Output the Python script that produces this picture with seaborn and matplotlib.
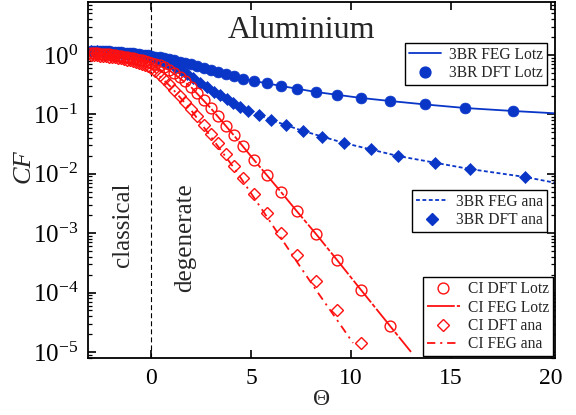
import numpy as np
import pandas as pd
import matplotlib
matplotlib.use("Agg")
import matplotlib.pyplot as plt
from matplotlib.lines import Line2D
from matplotlib.ticker import FixedLocator, LogFormatterMathtext, NullFormatter
import seaborn as sns

# ---------------- data ----------------
# common Theta grid of the DFT Lotz / CI markers
theta_grid = [-3.00, -2.85, -2.70, -2.55, -2.40, -2.25, -2.10, -1.95, -1.80, -1.65,
              -1.50, -1.35, -1.20, -1.05, -0.90, -0.75, -0.60, -0.45, -0.30, -0.15,
              0.00, 0.20, 0.43, 0.65, 0.90, 1.15, 1.43, 1.70, 2.00, 2.30,
              2.65, 3.00, 3.35, 3.75, 4.15, 4.60, 5.15, 5.80, 6.50, 7.30,
              8.25, 9.30, 10.50, 11.95, 13.70, 15.70, 18.10]

br3_dft_lotz = [1.168, 1.168, 1.163, 1.159, 1.154, 1.150, 1.145, 1.137, 1.128, 1.119,
                1.110, 1.098, 1.085, 1.072, 1.060, 1.043, 1.027, 1.012, 0.996, 0.981,
                0.962, 0.940, 0.915, 0.890, 0.840, 0.808, 0.771, 0.733, 0.692, 0.653,
                0.604, 0.559, 0.517, 0.479, 0.435, 0.394, 0.365, 0.331, 0.301, 0.268,
                0.238, 0.212, 0.189, 0.168, 0.147, 0.128, 0.114]

ci_dft_lotz = [1.081, 1.072, 1.064, 1.056, 1.043, 1.032, 1.020, 1.004, 0.988, 0.973,
               0.954, 0.936, 0.918, 0.897, 0.877, 0.856, 0.834, 0.811, 0.789, 0.765,
               0.742, 0.706, 0.666, 0.616, 0.559, 0.498, 0.426, 0.358, 0.289, 0.229,
               0.1714, 0.1257, 0.0922, 0.0638, 0.0441, 0.0288, 0.0171, 0.00936, 0.00494, 0.00232,
               9.69e-4, 3.54e-4, 1.106e-4, 2.74e-5, None, None, None]

ci_dft_ana = [1.000, 0.992, 0.985, 0.973, 0.962, 0.951, 0.936, 0.922, 0.908, 0.890,
              0.873, 0.853, 0.834, 0.811, 0.789, 0.765, 0.739, 0.711, 0.681, 0.643,
              0.604, 0.538, 0.461, 0.387, 0.319, 0.2575, 0.204, 0.1617, 0.1233, 0.0940,
              0.0663, 0.0468, 0.0330, 0.0215, 0.01353, 0.00850, 0.00457, 0.00219, 1.008e-3, 4.30e-4,
              1.568e-4, 5.09e-5, 1.417e-5, None, None, None, None]

# 3BR DFT ana markers (own grid)
theta_ana = [-3.00, -2.70, -2.40, -2.10, -1.80, -1.50, -1.20, -0.90, -0.60, -0.30,
             0.00, 0.30, 0.60, 0.90, 1.20, 1.50, 1.80, 2.10, 2.45, 2.80,
             3.15, 3.45, 3.80, 4.10, 4.45, 4.85, 5.40, 6.00, 6.75, 7.60,
             8.55, 9.65, 11.00, 12.35, 14.20, 15.95, 18.70]
br3_dft_ana = [1.168, 1.154, 1.137, 1.115, 1.089, 1.060, 1.027, 0.996, 0.962, 0.925,
               0.883, 0.830, 0.768, 0.700, 0.628, 0.548, 0.470, 0.402, 0.338, 0.284,
               0.238, 0.208, 0.178, 0.155, 0.133, 0.116, 0.098, 0.0805, 0.0650, 0.0526,
               0.0417, 0.0330, 0.0257, 0.0199, 0.0152, 0.0120, 0.00883]

# FEG model curves
theta_feg_lotz_3br = [-3.0, -1.5, 0.0, 0.9, 2.0, 3.0, 4.15, 5.15, 6.5, 8.25, 10.5, 11.95, 13.7, 15.7, 18.1, 20.25]
br3_feg_lotz = [1.168, 1.110, 0.962, 0.840, 0.692, 0.559, 0.435, 0.365, 0.301, 0.238, 0.189, 0.168, 0.147, 0.128, 0.114, 0.104]

theta_feg_ana_3br = [-3.0, -1.5, 0.0, 0.9, 1.8, 2.8, 3.8, 4.85, 6.0, 7.6, 9.65, 12.35, 15.95, 18.7, 20.25]
br3_feg_ana = [1.168, 1.060, 0.883, 0.700, 0.470, 0.284, 0.178, 0.116, 0.0805, 0.0526, 0.0330, 0.0199, 0.0120, 0.00883, 0.0070]

theta_feg_lotz_ci = [-3.0, -1.5, 0.0, 0.9, 2.0, 3.0, 4.15, 5.15, 6.5, 7.3, 8.25, 9.3, 10.5, 11.95, 13.0]
ci_feg_lotz = [1.081, 0.954, 0.742, 0.559, 0.289, 0.1257, 0.0441, 0.0171, 0.00494, 0.00232, 9.69e-4, 3.54e-4, 1.106e-4, 2.74e-5, 1.0e-5]

theta_feg_ana_ci = [-3.0, -1.5, 0.0, 1.0, 2.0, 4.15, 5.8, 7.3, 8.25, 9.3, 10.1]
ci_feg_ana = [1.000, 0.873, 0.604, 0.289, 0.1186, 0.01252, 1.874e-3, 3.27e-4, 1.106e-4, 3.46e-5, 1.418e-5]

x_ticks = [0, 5, 10, 15, 20]
y_ticks = [1e-5, 1e-4, 1e-3, 1e-2, 1e-1, 1e0]

BLUE = "#0a36c8"
RED = "#ff1010"

# ---------------- style ----------------
sns.set_theme(style="ticks")
plt.rcParams["font.family"] = ["Liberation Serif", "DejaVu Serif"]
plt.rcParams["mathtext.fontset"] = "custom"
plt.rcParams["mathtext.rm"] = "Liberation Serif"
plt.rcParams["mathtext.it"] = "Liberation Serif:italic"
plt.rcParams["mathtext.bf"] = "Liberation Serif:bold"
plt.rcParams["lines.scale_dashes"] = False

fig = plt.figure(figsize=(5.76, 4.15), dpi=100)
ax = fig.add_axes([88 / 576, 1 - 358 / 415, 467 / 576, 356 / 415])

def df(x, y):
    return pd.DataFrame({"x": x, "y": y}).dropna()

# blue series
sns.lineplot(data=df(theta_feg_lotz_3br, br3_feg_lotz), x="x", y="y", ax=ax, color=BLUE,
             lw=1.3, errorbar=None, sort=False)
sns.lineplot(data=df(theta_grid, br3_dft_lotz), x="x", y="y", ax=ax, color=BLUE, errorbar=None,
             linestyle="none", marker="o", markersize=7.8, markeredgecolor=BLUE, markerfacecolor=BLUE,
             markeredgewidth=0.5, sort=False)
sns.lineplot(data=df(theta_feg_ana_3br, br3_feg_ana), x="x", y="y", ax=ax, color=BLUE,
             lw=1.3, errorbar=None, sort=False)
ax.lines[-1].set_dashes((2.8, 1.8))
sns.lineplot(data=df(theta_ana, br3_dft_ana), x="x", y="y", ax=ax, color=BLUE, errorbar=None,
             linestyle="none", marker="D", markersize=6.5, markeredgecolor=BLUE, markerfacecolor=BLUE,
             markeredgewidth=0.5, sort=False)

# red series
sns.lineplot(data=df(theta_feg_lotz_ci, ci_feg_lotz), x="x", y="y", ax=ax, color=RED,
             lw=1.3, errorbar=None, sort=False)
ax.lines[-1].set_dashes((20, 1.5, 3, 1.5))
sns.lineplot(data=df(theta_grid, ci_dft_lotz), x="x", y="y", ax=ax, color=RED, errorbar=None,
             linestyle="none", marker="o", markersize=7.8, markeredgecolor=RED, markerfacecolor="none",
             markeredgewidth=1.0, sort=False)
sns.lineplot(data=df(theta_feg_ana_ci, ci_feg_ana), x="x", y="y", ax=ax, color=RED,
             lw=1.3, errorbar=None, sort=False)
ax.lines[-1].set_dashes((6, 3.5, 1.5, 3.5))
sns.lineplot(data=df(theta_grid, ci_dft_ana), x="x", y="y", ax=ax, color=RED, errorbar=None,
             linestyle="none", marker="D", markersize=6.0, markeredgecolor=RED, markerfacecolor="none",
             markeredgewidth=1.0, sort=False)

ax.axvline(0, color="black", lw=0.8, dashes=(3.6, 2.2), zorder=0)

ax.set_yscale("log")
ax.set_xlim(-3.15, 20.2)
ax.set_ylim(7.9e-6, 7.8)
ax.xaxis.set_major_locator(FixedLocator(x_ticks))
ax.yaxis.set_major_locator(FixedLocator(y_ticks))
ax.yaxis.set_major_formatter(LogFormatterMathtext())
minor = [m * 10.0 ** e for e in range(-6, 1) for m in range(2, 10) if 7.9e-6 < m * 10.0 ** e < 7.8]
ax.yaxis.set_minor_locator(FixedLocator(minor))
ax.yaxis.set_minor_formatter(NullFormatter())

ax.tick_params(which="both", direction="in", top=True, right=True, colors="black")
ax.tick_params(axis="y", labelsize=18)
ax.tick_params(axis="x", labelsize=17)
ax.tick_params(which="major", length=6, width=1.2, pad=7)
ax.tick_params(which="minor", length=3, width=0.9)
for s in ax.spines.values():
    s.set_linewidth(1.3)
    s.set_color("black")

ax.set_xlabel("Θ", fontsize=17, labelpad=0)
ax.set_ylabel("CF", fontsize=19, style="italic")
ax.yaxis.set_label_coords(-0.115, 0.54)

ax.text(0.457, 0.92, "Aluminium", transform=ax.transAxes, ha="center", va="center", fontsize=23)
ax.text(-1.4, 1.4e-3, "classical", rotation=90, ha="center", va="center", fontsize=18)
ax.text(1.7, 8.5e-4, "degenerate", rotation=90, ha="center", va="center", fontsize=18)

# legends
leg_kw = dict(frameon=True, fancybox=False, edgecolor="black", fontsize=11.2, handlelength=2.1,
              borderpad=0.25, labelspacing=0.15, handletextpad=0.5, borderaxespad=0.0,
              framealpha=1)
h1 = [Line2D([], [], color=BLUE, lw=1.3),
      Line2D([], [], color=BLUE, ls="none", marker="o", markersize=7.8)]
lg1 = ax.legend(h1, ["3BR FEG Lotz", "3BR DFT Lotz"], loc="upper right",
                bbox_to_anchor=(0.983, 0.885), **leg_kw)
lg1.get_frame().set_linewidth(1.0)
ax.add_artist(lg1)

h2 = [Line2D([], [], color=BLUE, lw=1.3, dashes=(2.8, 1.8)),
      Line2D([], [], color=BLUE, ls="none", marker="D", markersize=6.5)]
lg2 = ax.legend(h2, ["3BR FEG ana", "3BR DFT ana"], loc="upper right",
                bbox_to_anchor=(0.983, 0.472), **leg_kw)
lg2.get_frame().set_linewidth(1.0)
ax.add_artist(lg2)

h3 = [Line2D([], [], color=RED, ls="none", marker="o", markersize=7.8, markerfacecolor="none"),
      Line2D([], [], color=RED, lw=1.3, dashes=(20, 1.5, 3, 1.5)),
      Line2D([], [], color=RED, ls="none", marker="D", markersize=6.0, markerfacecolor="none"),
      Line2D([], [], color=RED, lw=1.3, dashes=(6, 3.5, 1.5, 3.5))]
lg3 = ax.legend(h3, ["CI DFT Lotz", "CI FEG Lotz", "CI DFT ana", "CI FEG ana"], loc="lower right",
                bbox_to_anchor=(0.995, 0.005), **leg_kw)
lg3.get_frame().set_linewidth(1.0)

fig.savefig("out.png", dpi=100)
